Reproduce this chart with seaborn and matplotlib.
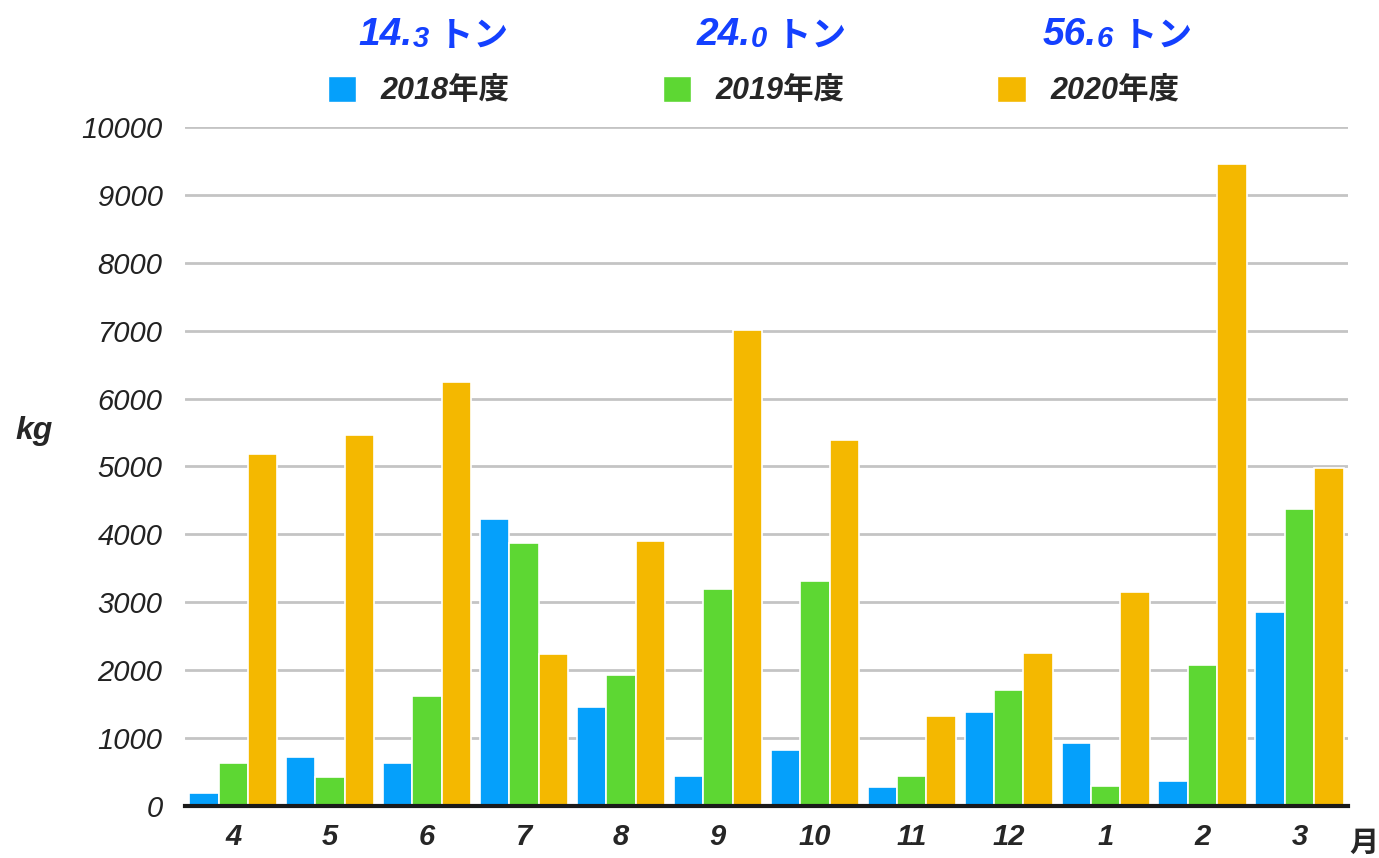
import pandas as pd
import matplotlib
matplotlib.use("Agg")
import matplotlib.pyplot as plt
import seaborn as sns

# ==========================================
# Data (kg per month, fiscal year April - March)
# ==========================================

months = ["4", "5", "6", "7", "8", "9", "10", "11", "12", "1", "2", "3"]
years = ["2018年度", "2019年度", "2020年度"]

kg_2018 = [190, 720, 630, 4230, 1460, 440, 820, 280, 1380, 930, 370, 2860]
kg_2019 = [630, 430, 1620, 3870, 1930, 3200, 3310, 440, 1710, 300, 2080, 4370]
kg_2020 = [5180, 5460, 6240, 2240, 3900, 7010, 5390, 1330, 2250, 3150, 9450, 4980]

total_int = ["14.", "24.", "56."]
total_dec = ["3", "0", "6"]
total_unit = " トン"

colors = ["#05A0FB", "#5DD733", "#F4B800"]

df = pd.DataFrame({
    "month": months * 3,
    "kg": kg_2018 + kg_2019 + kg_2020,
    "year": [years[0]] * 12 + [years[1]] * 12 + [years[2]] * 12,
})

# ==========================================
# Style
# ==========================================

sns.set_style("white")
plt.rcParams["font.family"] = ["Liberation Sans", "Noto Sans CJK JP", "DejaVu Sans"]

fig = plt.figure(figsize=(13.79, 8.58), dpi=100)
ax = fig.add_axes([0.134, 0.0606, 0.8435, 0.7915])

sns.barplot(
    data=df,
    x="month",
    y="kg",
    hue="year",
    order=months,
    hue_order=years,
    palette=colors,
    width=0.91,
    edgecolor="white",
    linewidth=1.2,
    saturation=1,
    ax=ax,
)

ax.set_ylim(0, 10000)
ax.set_xlim(-0.5, 11.5)
ax.set_yticks(range(0, 10001, 1000))
ax.yaxis.grid(True, color="#c4c4c4", linewidth=2)
ax.set_axisbelow(True)

for side in ["top", "right", "left"]:
    ax.spines[side].set_visible(False)
ax.spines["bottom"].set_color("#1a1a1a")
ax.spines["bottom"].set_linewidth(3)

ax.tick_params(axis="y", length=0, pad=16, labelsize=21, labelcolor="#222222")
ax.tick_params(axis="x", length=0, pad=12, labelsize=21)
for lab in ax.get_yticklabels():
    lab.set_style("italic")
for lab in ax.get_xticklabels():
    lab.set_style("italic")
    lab.set_fontweight("bold")

ax.set_xlabel("")
ax.set_ylabel("")
fig.text(0.025, 0.498, "kg", fontsize=23, fontweight="bold", style="italic",
         ha="center", va="center")
fig.text(0.989, 0.017, "月", fontsize=21, fontweight="bold",
         ha="center", va="center")

# ==========================================
# Legend
# ==========================================

ax.get_legend().remove()
handles = [plt.Rectangle((0, 0), 1, 1, facecolor=c, edgecolor="white") for c in colors]
leg = fig.legend(
    handles,
    years,
    loc="center",
    bbox_to_anchor=(0.5465, 0.894),
    ncol=3,
    frameon=False,
    handlelength=0.92,
    handleheight=0.92,
    handletextpad=0.82,
    columnspacing=5.0,
    prop={"size": 22, "weight": "bold", "style": "italic"},
)

# ==========================================
# Yearly totals above legend
# ==========================================

total_x = [0.26, 0.505, 0.756]
for x, a, b in zip(total_x, total_int, total_dec):
    t1 = fig.text(x, 0.948, a, fontsize=28, fontweight="bold", style="italic",
                  color="#1440FF", va="baseline")
    t2 = ax.annotate(b, xy=(1, 0), xycoords=t1, fontsize=21, fontweight="bold",
                     style="italic", color="#1440FF", va="bottom",
                     annotation_clip=False)
    ax.annotate(total_unit, xy=(1, 0), xycoords=t2, fontsize=25, fontweight="bold",
                color="#1440FF", va="bottom", annotation_clip=False)

fig.savefig("out.png", dpi=100)
